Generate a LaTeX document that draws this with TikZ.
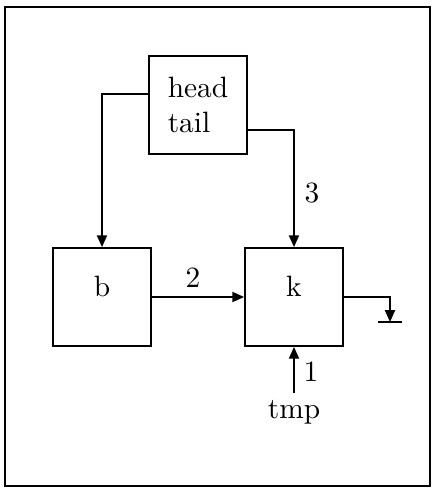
\documentclass[tikz,border=0pt]{standalone}
\usepackage{tikz}
\usetikzlibrary{positioning,arrows.meta}

\begin{document}
\begin{tikzpicture}[
  x=3.4pt, y=3.4pt,
  every path/.style={line width=0.6pt},
  blk/.style={draw, rectangle, minimum size=33.3pt, inner sep=0pt, line width=0.6pt},
  arr/.style={-{Triangle[length=4pt,width=3.4pt]}},
  num/.style={font=\normalsize},
]
\useasboundingbox (0,0) rectangle (43.5,49);
\draw (0.5,0.4) rectangle (43,48.3);

\node[blk, align=left] (head) at (19.8,38.5) {head\\tail};
\node[blk, text height=4pt, text depth=4pt] (b) at (10.2,19.3) {b};
\node[blk, text height=4pt, text depth=4pt] (k) at (29.4,19.3) {k};
\node[inner sep=2pt] (tmp) at (29.4,7.8) {tmp};
\coordinate (gnd) at (39,16.8);

\draw[arr] ([yshift=3.7pt]head.west) -| (b);
\draw[arr] ([yshift=-8.5pt]head.east) -| (k);
\draw[arr] (b) -- (k);
\draw[arr] (tmp) -- (k);
\draw[arr] (k) -| (gnd);
\draw (gnd) ++(-1.2,0) -- ++(2.4,0);

\node[num] (l3) at (31.2,29.7) {3};
\node[num] (l2) at (19.3,21.2) {2};
\node[num] (l1) at (31.1,11.8) {1};
\end{tikzpicture}
\end{document}
